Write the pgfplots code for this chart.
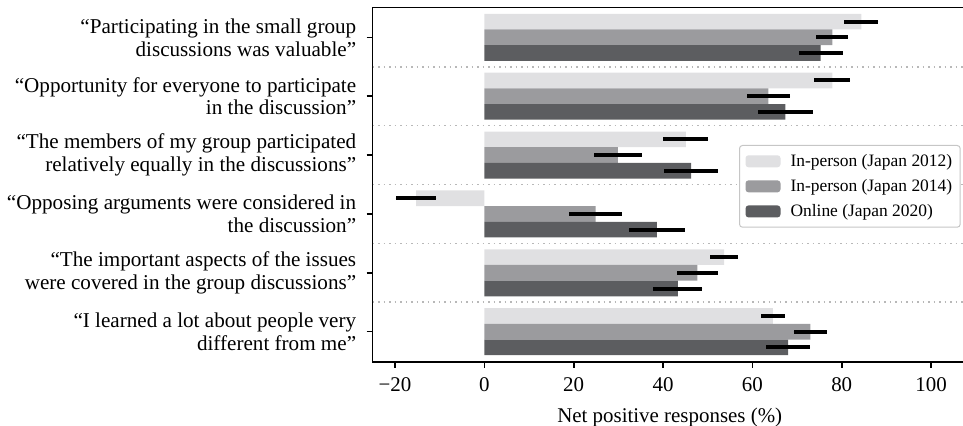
\documentclass[border=0pt]{standalone}
\usepackage{pgfplots}
\pgfplotsset{compat=1.18}
\usepackage{pgfplotstable}
\usepackage{fontspec}
\setmainfont{Liberation Serif}
\definecolor{cLight}{HTML}{E0E0E2}
\definecolor{cMid}{HTML}{9B9B9E}
\definecolor{cDark}{HTML}{5C5D60}
\definecolor{cGrid}{HTML}{B8B8B8}
\pgfplotstableread{
y light lerr mid merr dark derr
0 84.4 3.8 77.9 3.6 75.3 4.9
1 77.9 4.0 63.6 4.85 67.4 6.1
2 45.1 5.05 29.9 5.4 46.3 6.05
3 -15.3 4.55 24.9 5.85 38.6 6.3
4 53.7 3.1 47.7 4.6 43.3 5.5
5 64.6 2.65 73.0 3.75 68.0 4.95
}\datatable
\begin{document}
\begin{tikzpicture}
\begin{axis}[
  scale only axis,
  width=594.1bp, height=354.4bp,
  xmin=-25, xmax=108,
  ymin=-0.51, ymax=5.51,
  y dir=reverse,
  xbar,
  bar width=0.2667,
  axis line style={line width=1.6bp, black},
  tick align=outside, tick pos=left,
  major tick length=6bp,
  tick style={line width=1.6bp, black},
  xtick={-20,0,20,40,60,80,100},
  xticklabels={−20,0,20,40,60,80,100},
  ytick={0,1,2,3,4,5},
  yticklabels={
    {“Participating in the small group\\discussions was valuable”},
    {“Opportunity for everyone to participate\\in the discussion”},
    {“The members of my group participated\\relatively equally in the discussions”},
    {“Opposing arguments were considered in\\the discussion”},
    {“The important aspects of the issues\\were covered in the group discussions”},
    {“I learned a lot about people very\\different from me”}},
  yticklabel style={align=right, font=\fontsize{21.2}{23}\selectfont, xshift=-7bp},
  xticklabel style={font=\fontsize{21}{22.5}\selectfont, yshift=-6bp},
  extra y ticks={0.5,1.5,2.5,3.5,4.5},
  extra y tick labels={},
  extra y tick style={grid=major, major grid style={cGrid, line width=1.5bp, dash pattern=on 1.5bp off 4bp}, tick style={draw=none}},
  xlabel={Net positive responses (\%)},
  xlabel style={font=\fontsize{21}{22.5}\selectfont, yshift=-10bp},
  legend cell align=left,
  legend style={at={(rel axis cs:0.6166,0.6115)}, anchor=north west,
    font=\fontsize{17.5}{20}\selectfont, draw=cGrid!80, line width=1bp,
    rounded corners=3bp, fill=white, inner xsep=6bp, inner ysep=7bp,
    row sep=7.5bp, column sep=8bp},
  legend image code/.code={\fill[#1] (0bp,-6bp) rectangle (35bp,6bp);},
  error bars/error bar style={line width=4bp, black},
  error bars/error mark=none,
]
\addplot[fill=cLight, draw=none, bar shift=-0.2667,
  error bars/.cd, x dir=both, x explicit]
  table[x=light, y=y, x error=lerr] {\datatable};
\addlegendentry{In-person (Japan 2012)}
\addplot[fill=cMid, draw=none, bar shift=0,
  error bars/.cd, x dir=both, x explicit]
  table[x=mid, y=y, x error=merr] {\datatable};
\addlegendentry{In-person (Japan 2014)}
\addplot[fill=cDark, draw=none, bar shift=0.2667,
  error bars/.cd, x dir=both, x explicit]
  table[x=dark, y=y, x error=derr] {\datatable};
\addlegendentry{Online (Japan 2020)}
\end{axis}
\pgfresetboundingbox
\useasboundingbox (current axis.south west) ++(-372.7bp,-64.3bp) rectangle ++(963bp,426bp);
\end{tikzpicture}
\end{document}
